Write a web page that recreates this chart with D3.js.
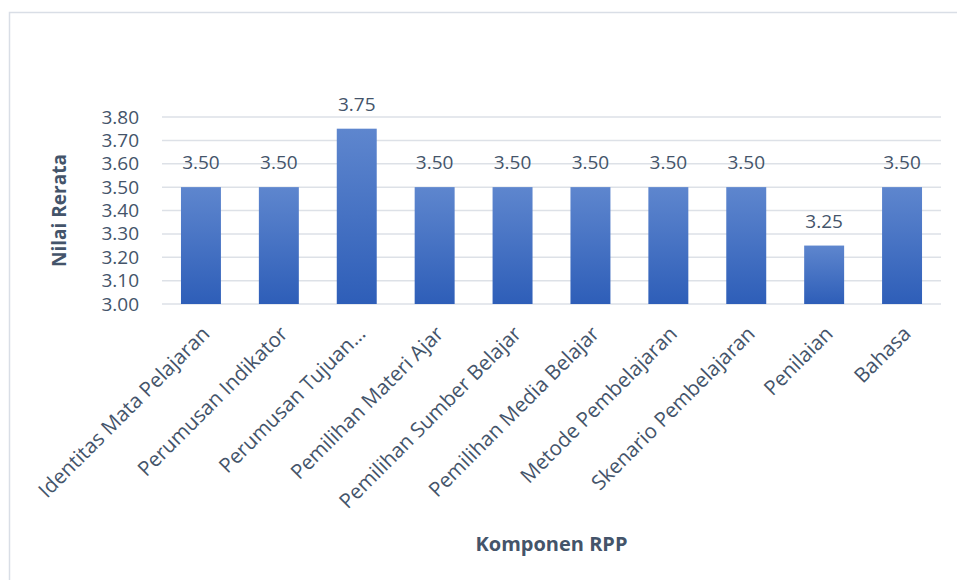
<!DOCTYPE html>
<html><head><meta charset="utf-8">
<script src="https://cdn.jsdelivr.net/npm/d3@7"></script>
<style>body{margin:0;background:#fff}svg{display:block}</style>
</head><body>
<script>
const categories = ["Identitas Mata Pelajaran","Perumusan Indikator","Perumusan Tujuan…","Pemilihan Materi Ajar","Pemilihan Sumber Belajar","Pemilihan Media Belajar","Metode Pembelajaran","Skenario Pembelajaran","Penilaian","Bahasa"];
const values = [3.50,3.50,3.75,3.50,3.50,3.50,3.50,3.50,3.25,3.50];
const yTicks = [3.00,3.10,3.20,3.30,3.40,3.50,3.60,3.70,3.80];
const yTitle = "Nilai Rerata";
const xTitle = "Komponen RPP";

const W = 957, H = 580;
const m = {left:162, right:16, top:117, bottom:276};
const txt = "#44546A", font = "'Open Sans', sans-serif";
const svg = d3.select("body").append("svg").attr("width",W).attr("height",H);

const defs = svg.append("defs");
const g0 = defs.append("linearGradient").attr("id","bg").attr("x1",0).attr("y1",0).attr("x2",0).attr("y2",1);
g0.append("stop").attr("offset","0%").attr("stop-color","#5E86CE");
g0.append("stop").attr("offset","100%").attr("stop-color","#2E5EB8");

svg.append("rect").attr("x",9.5).attr("y",12.5).attr("width",W+20).attr("height",H+20)
  .attr("fill","none").attr("stroke","#D9DEE6").attr("stroke-width",1.5);

const x = d3.scaleBand().domain(categories).range([m.left, W-m.right]).paddingInner(0.487).paddingOuter(0.2435);
const y = d3.scaleLinear().domain([3.0,3.8]).range([H-m.bottom, m.top]);

const grid = svg.append("g");
grid.selectAll("line").data(yTicks).join("line")
  .attr("x1",m.left).attr("x2",W-m.right)
  .attr("y1",d=>y(d)).attr("y2",d=>y(d))
  .attr("stroke","#DDE1E7").attr("stroke-width",1.5);

const yAxis = svg.append("g").attr("transform",`translate(${m.left},0)`)
  .call(d3.axisLeft(y).tickValues(yTicks).tickFormat(d3.format(".2f")).tickSize(0).tickPadding(23));
yAxis.select(".domain").remove();
yAxis.selectAll("text").attr("fill",txt).style("font-family",font).style("font-size","19px");

svg.append("g").selectAll("rect").data(values).join("rect")
  .attr("x",(d,i)=>x(categories[i])).attr("width",x.bandwidth())
  .attr("y",d=>y(d)).attr("height",d=>y(3.0)-y(d))
  .attr("fill","url(#bg)");

svg.append("g").selectAll("text").data(values).join("text")
  .attr("x",(d,i)=>x(categories[i])+x.bandwidth()/2)
  .attr("y",d=>y(d)-18)
  .attr("text-anchor","middle").attr("fill",txt)
  .style("font-family",font).style("font-size","19px")
  .text(d=>d3.format(".2f")(d));

svg.append("g").selectAll("text").data(categories).join("text")
  .attr("transform",d=>`translate(${x(d)+x.bandwidth()/2+10},${y(3.0)+31}) rotate(-45)`)
  .attr("text-anchor","end").attr("fill",txt)
  .style("font-family",font).style("font-size","20.5px")
  .text(d=>d);

svg.append("text").attr("transform",`translate(66,${(y(3.0)+y(3.8))/2}) rotate(-90)`)
  .attr("text-anchor","middle").attr("fill",txt)
  .style("font-family",font).style("font-size","19px").style("font-weight","bold")
  .text(yTitle);

svg.append("text").attr("x",(m.left+W-m.right)/2).attr("y",551)
  .attr("text-anchor","middle").attr("fill",txt)
  .style("font-family",font).style("font-size","20px").style("font-weight","bold")
  .text(xTitle);
</script>
</body></html>
